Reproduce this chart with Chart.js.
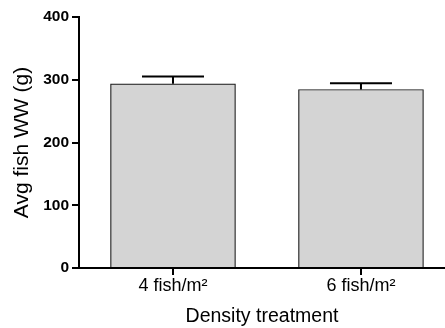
<!DOCTYPE html>
<html>
<head>
<meta charset="utf-8">
<script src="https://cdn.jsdelivr.net/npm/chart.js@4"></script>
<style>
html,body{margin:0;padding:0;background:#fff;overflow:hidden}
#wrap{width:445px;height:328px;position:relative}
</style>
</head>
<body>
<div id="wrap"><canvas id="c" width="445" height="328"></canvas></div>
<script>
const categories = ["4 fish/m\u00B2", "6 fish/m\u00B2"];
const meanWW = [293.5, 284.5];
const semWW = [11.5, 10];
const yTicks = [0, 100, 200, 300, 400];
const xPos = categories.map((_, i) => i + 1);

const errorBars = {
  id: 'errorBars',
  afterDatasetsDraw(chart) {
    const ctx = chart.ctx;
    const xs = chart.scales.x, ys = chart.scales.y;
    ctx.save();
    ctx.strokeStyle = '#000';
    ctx.lineWidth = 2;
    meanWW.forEach((m, i) => {
      const x = xs.getPixelForValue(xPos[i]);
      const y0 = ys.getPixelForValue(m);
      const y1 = ys.getPixelForValue(m + semWW[i]);
      ctx.beginPath();
      ctx.moveTo(x, y0); ctx.lineTo(x, y1);
      ctx.moveTo(x - 31, y1); ctx.lineTo(x + 31, y1);
      ctx.stroke();
    });
    ctx.restore();
  }
};

new Chart(document.getElementById('c'), {
  type: 'bar',
  data: {
    datasets: [{
      data: meanWW.map((v, i) => ({x: xPos[i], y: v})),
      backgroundColor: '#d4d4d4',
      borderColor: '#1a1a1a',
      borderWidth: 1.2,
      barThickness: 125
    }]
  },
  options: {
    responsive: false,
    animation: false,
    devicePixelRatio: 1,
    layout: {padding: {top: 17, right: 0, left: 0, bottom: 0}},
    plugins: {legend: {display: false}, tooltip: {enabled: false}},
    scales: {
      x: {
        type: 'linear',
        offset: false,
        min: 0.5,
        max: 2.447,
        afterBuildTicks(s) { s.ticks = xPos.map(v => ({value: v})); },
        afterFit(s) { s.height = 60; },
        grid: {display: true, drawOnChartArea: false, drawTicks: true, tickLength: 7, lineWidth: 2, color: '#000', offset: false},
        border: {display: true, color: '#000', width: 2},
        ticks: {
          color: '#000', padding: 0, maxRotation: 0,
          font: {family: 'Liberation Sans, Arial, sans-serif', size: 18},
          callback: (v) => categories[xPos.indexOf(v)] || ''
        },
        title: {display: true, text: 'Density treatment', color: '#000',
          font: {family: 'Liberation Sans, Arial, sans-serif', size: 19.5}, padding: {top: 2, bottom: 0}}
      },
      y: {
        min: 0, max: 400,
        afterBuildTicks(s) { s.ticks = yTicks.map(v => ({value: v})); },
        afterFit(s) { s.width = 79; },
        grid: {display: true, drawOnChartArea: false, drawTicks: true, tickLength: 7, lineWidth: 2, color: '#000'},
        border: {display: true, color: '#000', width: 2},
        ticks: {
          color: '#000', padding: 3,
          font: {family: 'Liberation Sans, Arial, sans-serif', size: 15.5, weight: 'bold'}
        },
        title: {display: true, text: 'Avg fish WW (g)', color: '#000',
          font: {family: 'Liberation Sans, Arial, sans-serif', size: 21}, padding: {top: 10, bottom: 2}}
      }
    }
  },
  plugins: [errorBars]
});
</script>
</body>
</html>
